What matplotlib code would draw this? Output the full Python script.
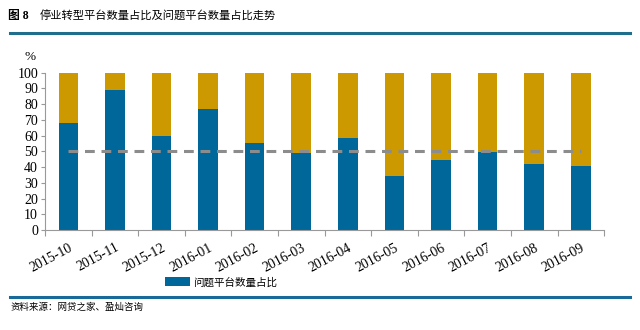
import numpy as np
import matplotlib
matplotlib.use("Agg")
import matplotlib.pyplot as plt
from matplotlib.lines import Line2D

months = ["2015-10", "2015-11", "2015-12", "2016-01", "2016-02", "2016-03",
          "2016-04", "2016-05", "2016-06", "2016-07", "2016-08", "2016-09"]
problem_share = [68, 89, 60, 77, 55, 49, 58.5, 34.5, 44.5, 49.5, 42, 40.5]
stopped_share = [32, 11, 40, 23, 45, 51, 41.5, 65.5, 55.5, 50.5, 58, 59.5]
ref_line = [50] * 12

BLUE = "#00679a"
GOLD = "#cc9900"
GREY = "#8c8c8c"
SERIF_CJK = ["Liberation Serif", "Noto Sans CJK SC"]

fig = plt.figure(figsize=(6.4, 3.3), dpi=100)
ax = fig.add_axes([0.0703, 0.303, 0.8737, 0.477])

x = np.arange(len(months))
ax.bar(x, problem_share, width=0.42, color=BLUE, label="问题平台数量占比")
ax.bar(x, stopped_share, width=0.42, bottom=problem_share, color=GOLD)
ax.plot(x, ref_line, color=GREY, lw=2.2, ls=(0, (3.2, 2.2)))

ax.set_xlim(-0.5, len(months) - 0.5)
ax.set_ylim(0, 100)
ax.set_yticks(range(0, 101, 10))
ax.set_xticks(np.arange(len(months) + 1) - 0.5, minor=False)
ax.set_xticklabels([])
ax.set_xticks(x, minor=True)
ax.set_xticklabels(months, minor=True, rotation=28, ha="right", va="top",
                   rotation_mode="anchor", family="Liberation Serif", fontsize=10)
ax.tick_params(axis="x", which="minor", length=0, pad=8)
ax.tick_params(axis="x", which="major", length=4, color="#999999", direction="out")
ax.tick_params(axis="y", length=3, color="#999999", pad=2)
for lab in ax.get_yticklabels():
    lab.set_family("Liberation Serif")
    lab.set_fontsize(10)
for s in ["top", "right"]:
    ax.spines[s].set_visible(False)
for s in ["left", "bottom"]:
    ax.spines[s].set_color("#999999")
ax.text(-0.026, 1.06, "%", transform=ax.transAxes, ha="center", va="bottom",
        family="Liberation Serif", fontsize=9.5)

fig.text(0.013, 0.952, "图 8", family=SERIF_CJK, fontsize=8.5, fontweight="bold",
         va="center", ha="left")
fig.text(0.0625, 0.952, "停业转型平台数量占比及问题平台数量占比走势",
         family=SERIF_CJK, fontsize=8.1, va="center", ha="left")
fig.add_artist(Line2D([0.016, 0.984], [0.899, 0.899], color="#1f6e8c", lw=2.2))
fig.add_artist(Line2D([0.016, 0.984], [0.101, 0.101], color="#1a6a99", lw=2.2))
fig.text(0.016, 0.07, "资料来源：网贷之家、盈灿咨询", family=SERIF_CJK,
         fontsize=6.8, va="center", ha="left")

fig.legend(loc="center", bbox_to_anchor=(0.345, 0.145), frameon=False,
           prop={"family": SERIF_CJK, "size": 7.6}, handlelength=2.4,
           handleheight=0.9, handletextpad=0.25)

fig.savefig("out.png", dpi=100, facecolor="white")
